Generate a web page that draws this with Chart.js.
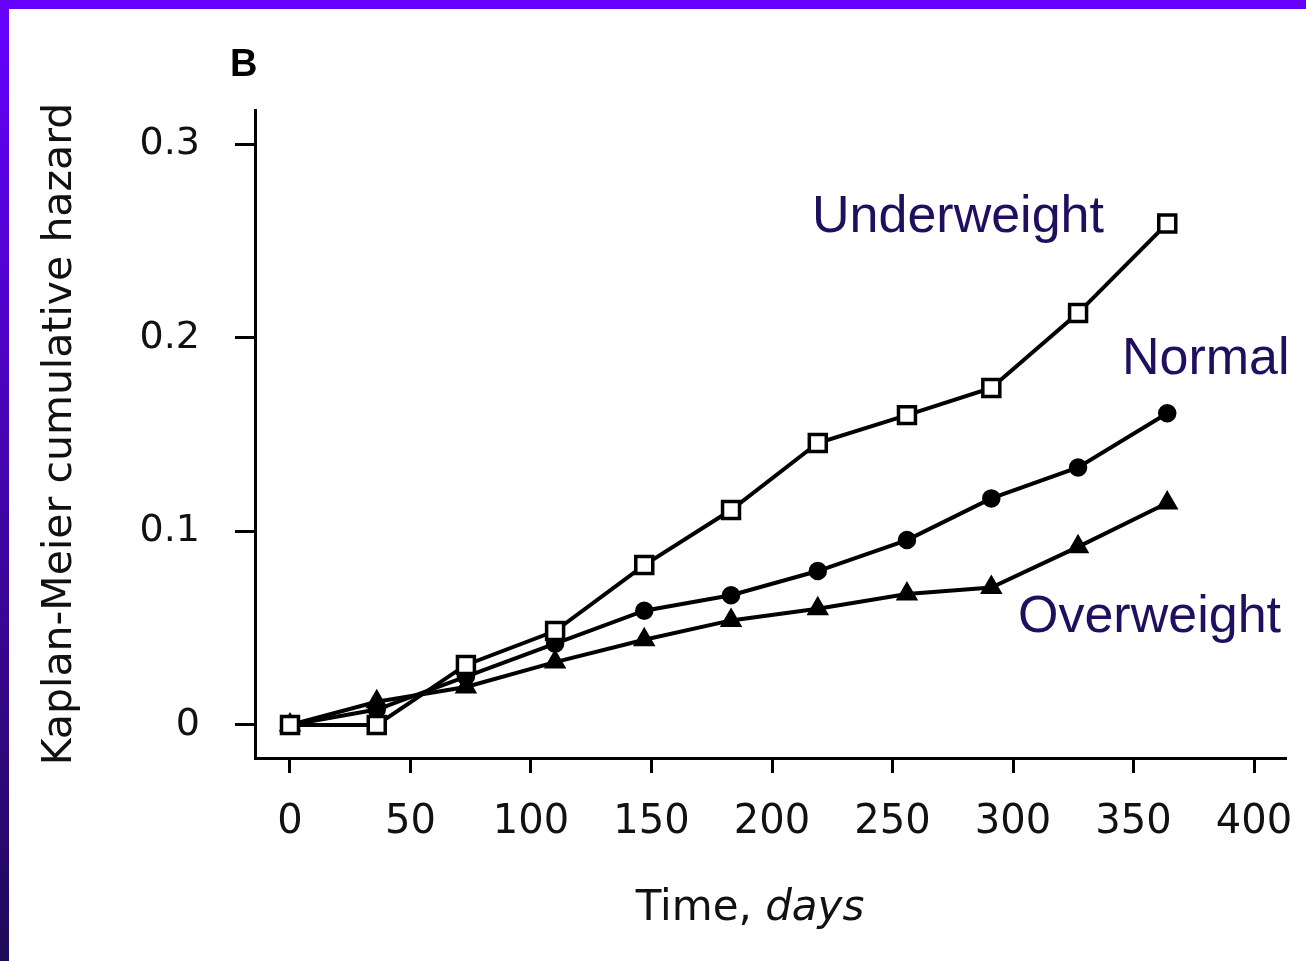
<!DOCTYPE html>
<html>
<head>
<meta charset="utf-8">
<title>Kaplan-Meier cumulative hazard</title>
<script src="https://cdn.jsdelivr.net/npm/chart.js@4"></script>
<style>
  html, body { margin: 0; padding: 0; background: #fff; overflow: hidden; }
  #wrap { position: relative; width: 1306px; height: 961px; }
  #canvas { position: absolute; left: 0; top: 0; }
  #bar_top { position: absolute; left: 0; top: 0; width: 1306px; height: 9px; background: #6600ff; }
  #bar_left { position: absolute; left: 0; top: 0; width: 9px; height: 961px;
              background: linear-gradient(#6600ff, #1f0a58); }
</style>
</head>
<body>
<div id="wrap">
  <canvas id="canvas" width="1306" height="961"></canvas>
  <div id="bar_top"></div>
  <div id="bar_left"></div>
</div>
<script>
// days since start
const days = [0, 36, 73, 110, 147, 183, 219, 256, 291, 327, 364];
const underweight = [0, 0, 0.031, 0.0485, 0.0826, 0.111, 0.1456, 0.160, 0.174, 0.2127, 0.259];
const normal      = [0, 0.008, 0.025, 0.042, 0.059, 0.067, 0.0795, 0.0955, 0.117, 0.133, 0.161];
const overweight  = [0, 0.012, 0.0196, 0.0325, 0.044, 0.054, 0.060, 0.0676, 0.071, 0.092, 0.1146];
const x_ticks = [0, 50, 100, 150, 200, 250, 300, 350, 400];
const y_ticks = [0, 0.1, 0.2, 0.3];
const series_names = ['Underweight', 'Normal', 'Overweight'];

const ink = '#000';
const label_color = '#200f5f';
const font_family = "'DejaVu Sans', sans-serif";

function to_points(values) {
    let points = [];
    for (let i = 0; i < values.length; i++) {
        points.push({x: days[i], y: values[i]});
    }
    return points;
}

// panel letter, x axis title and the group labels
const extra_text = {
    id: 'extra_text',
    afterDraw(chart) {
        const c = chart.ctx;
        c.save();
        c.textBaseline = 'alphabetic';
        c.textAlign = 'left';
        c.fillStyle = ink;
        c.font = "bold 38px 'Liberation Sans', Arial, sans-serif";
        c.fillText('B', 230, 76);

        c.fillStyle = '#111';
        c.font = '42px ' + font_family;
        const first = 'Time, ';
        const w1 = c.measureText(first).width;
        c.font = 'italic 42px ' + font_family;
        const w2 = c.measureText('days').width;
        const start = 750 - (w1 + w2) / 2;
        c.font = '42px ' + font_family;
        c.fillText(first, start, 920);
        c.font = 'italic 42px ' + font_family;
        c.fillText('days', start + w1, 920);

        c.fillStyle = label_color;
        c.font = "52px 'Liberation Sans', Arial, sans-serif";
        c.fillText(series_names[0], 812, 232);
        c.fillText(series_names[1], 1122, 374);
        c.fillText(series_names[2], 1018, 632);
        c.restore();
    }
};

const ctx = document.getElementById('canvas').getContext('2d');
const km_chart = new Chart(ctx, {
    type: 'line',
    data: {
        datasets: [
            {label: series_names[0], data: to_points(underweight), pointStyle: 'rect',
             pointRadius: 12, pointHoverRadius: 12, backgroundColor: '#fff'},
            {label: series_names[1], data: to_points(normal), pointStyle: 'circle',
             pointRadius: 7.5, pointHoverRadius: 7.5, backgroundColor: ink},
            {label: series_names[2], data: to_points(overweight), pointStyle: 'triangle',
             pointRadius: 9.5, pointHoverRadius: 9.5, backgroundColor: ink}
        ].map(d => Object.assign(d, {
            borderColor: ink, borderWidth: 4, pointBorderWidth: 3.5,
            pointBorderColor: ink, pointBackgroundColor: d.backgroundColor,
            tension: 0, fill: false
        }))
    },
    options: {
        responsive: false,
        animation: false,
        events: [],
        layout: {padding: {top: 110, right: 21, left: 0, bottom: 0}},
        plugins: {legend: {display: false}, tooltip: {enabled: false}},
        scales: {
            x: {
                type: 'linear',
                min: -14.52,
                max: 412.86,
                afterBuildTicks: (scale) => { scale.ticks = x_ticks.map(v => ({value: v})); },
                afterFit: (scale) => {
                    scale.height = 203;
                    scale.paddingLeft = 0;
                    scale.paddingRight = 0;
                },
                grid: {display: true, drawOnChartArea: false, drawTicks: true,
                       tickLength: 15, color: ink, lineWidth: 3},
                border: {display: true, color: ink, width: 3},
                ticks: {color: '#111', padding: 26, maxRotation: 0,
                        font: {family: font_family, size: 40},
                        callback: v => String(v)},
                title: {display: false}
            },
            y: {
                type: 'linear',
                min: -0.01704,
                max: 0.31756,
                afterBuildTicks: (scale) => { scale.ticks = y_ticks.map(v => ({value: v})); },
                afterFit: (scale) => {
                    scale.width = 255;
                    scale.paddingTop = 0;
                    scale.paddingBottom = 0;
                },
                grid: {display: true, drawOnChartArea: false, drawTicks: true,
                       tickLength: 20, color: ink, lineWidth: 3},
                border: {display: true, color: ink, width: 3},
                ticks: {color: '#111', padding: 35,
                        font: {family: font_family, size: 38},
                        callback: v => String(v)},
                title: {display: true, text: 'Kaplan-Meier cumulative hazard', color: '#111',
                        font: {family: font_family, size: 41},
                        padding: {top: 36, bottom: 0}}
            }
        }
    },
    plugins: [extra_text]
});
</script>
</body>
</html>
